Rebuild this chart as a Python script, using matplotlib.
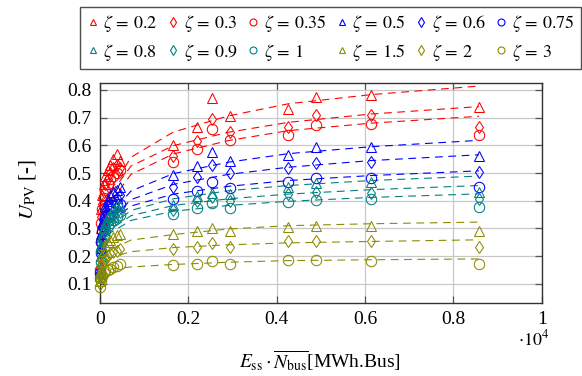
import matplotlib
matplotlib.use('Agg')
import matplotlib.pyplot as plt
from matplotlib.lines import Line2D

plt.rcParams['font.family'] = ['Liberation Serif', 'DejaVu Serif']
plt.rcParams['mathtext.fontset'] = 'stix'

# ---------------- data ----------------
zetas = ['0.2', '0.3', '0.35', '0.5', '0.6', '0.75', '0.8', '0.9', '1', '1.5', '2', '3']

# small-storage cluster
x_small = [5, 15, 30, 50, 80, 120, 170, 230, 300, 380, 460]
y_small_02 = [0.17, 0.30, 0.37, 0.42, 0.46, 0.49, 0.51, 0.53, 0.55, 0.567, 0.545]
y_small_03 = [0.16, 0.27, 0.34, 0.39, 0.43, 0.46, 0.48, 0.50, 0.52, 0.53, 0.52]
y_small_035 = [0.15, 0.25, 0.32, 0.37, 0.41, 0.44, 0.46, 0.48, 0.49, 0.50, 0.51]
y_small_05 = [0.15, 0.23, 0.28, 0.32, 0.35, 0.38, 0.40, 0.42, 0.43, 0.44, 0.45]
y_small_06 = [0.14, 0.22, 0.27, 0.30, 0.33, 0.36, 0.38, 0.39, 0.40, 0.41, 0.42]
y_small_075 = [0.14, 0.21, 0.25, 0.29, 0.31, 0.34, 0.35, 0.37, 0.38, 0.39, 0.39]
y_small_08 = [0.13, 0.20, 0.24, 0.27, 0.30, 0.32, 0.34, 0.35, 0.37, 0.38, 0.38]
y_small_09 = [0.13, 0.19, 0.23, 0.26, 0.29, 0.31, 0.32, 0.34, 0.35, 0.36, 0.36]
y_small_1 = [0.12, 0.18, 0.22, 0.25, 0.27, 0.29, 0.31, 0.32, 0.33, 0.34, 0.35]
y_small_15 = [0.11, 0.15, 0.18, 0.20, 0.22, 0.24, 0.25, 0.26, 0.27, 0.275, 0.28]
y_small_2 = [0.10, 0.13, 0.15, 0.17, 0.18, 0.19, 0.20, 0.21, 0.215, 0.22, 0.225]
y_small_3 = [0.09, 0.11, 0.12, 0.13, 0.14, 0.145, 0.15, 0.155, 0.16, 0.165, 0.17]

# large-storage columns
x_big = [1660, 2190, 2530, 2940, 4260, 4880, 6130, 8580]
y_big_02 = [0.602, 0.665, 0.770, 0.707, 0.732, 0.776, 0.782, 0.740]
y_big_03 = [0.563, 0.617, 0.694, 0.647, 0.668, 0.708, 0.710, 0.665]
y_big_035 = [0.540, 0.587, 0.659, 0.619, 0.636, 0.674, 0.678, 0.636]
y_big_05 = [0.492, 0.525, 0.575, 0.543, 0.564, 0.593, 0.595, 0.561]
y_big_06 = [0.451, 0.487, 0.528, 0.501, 0.519, 0.537, 0.540, 0.505]
y_big_075 = [0.405, 0.436, 0.469, 0.446, 0.469, 0.483, 0.483, 0.449]
y_big_08 = [0.385, 0.417, 0.429, 0.423, 0.451, 0.464, 0.469, 0.433]
y_big_09 = [0.367, 0.399, 0.413, 0.399, 0.423, 0.433, 0.429, 0.405]
y_big_1 = [0.351, 0.374, 0.392, 0.374, 0.397, 0.403, 0.405, 0.378]
y_big_15 = [0.281, 0.291, 0.303, 0.291, 0.306, 0.309, 0.309, 0.291]
y_big_2 = [0.225, 0.234, 0.246, 0.233, 0.253, 0.253, 0.256, 0.234]
y_big_3 = [0.167, 0.172, 0.183, 0.170, 0.186, 0.186, 0.184, 0.172]

# fitted trend lines
x_fit = [15, 60, 200, 700, 1660, 2900, 4260, 6130, 8580]
fit_02 = [0.153, 0.299, 0.425, 0.557, 0.648, 0.706, 0.750, 0.783, 0.814]
fit_03 = [0.195, 0.314, 0.417, 0.525, 0.599, 0.647, 0.683, 0.713, 0.740]
fit_035 = [0.165, 0.284, 0.387, 0.495, 0.569, 0.617, 0.653, 0.680, 0.705]
fit_05 = [0.154, 0.256, 0.344, 0.435, 0.498, 0.539, 0.570, 0.595, 0.618]
fit_06 = [0.158, 0.247, 0.324, 0.404, 0.459, 0.495, 0.521, 0.545, 0.566]
fit_075 = [0.189, 0.258, 0.318, 0.381, 0.424, 0.452, 0.473, 0.491, 0.508]
fit_08 = [0.177, 0.245, 0.304, 0.365, 0.407, 0.436, 0.455, 0.473, 0.489]
fit_09 = [0.181, 0.240, 0.292, 0.346, 0.383, 0.407, 0.424, 0.440, 0.455]
fit_1 = [0.183, 0.236, 0.281, 0.329, 0.362, 0.383, 0.398, 0.412, 0.425]
fit_15 = [0.146, 0.186, 0.221, 0.258, 0.278, 0.298, 0.310, 0.317, 0.323]
fit_2 = [0.147, 0.171, 0.193, 0.216, 0.231, 0.241, 0.248, 0.253, 0.259]
fit_3 = [0.130, 0.145, 0.153, 0.161, 0.170, 0.178, 0.184, 0.187, 0.190]

y_small = [y_small_02, y_small_03, y_small_035, y_small_05, y_small_06, y_small_075,
           y_small_08, y_small_09, y_small_1, y_small_15, y_small_2, y_small_3]
y_big = [y_big_02, y_big_03, y_big_035, y_big_05, y_big_06, y_big_075,
         y_big_08, y_big_09, y_big_1, y_big_15, y_big_2, y_big_3]
fits = [fit_02, fit_03, fit_035, fit_05, fit_06, fit_075,
        fit_08, fit_09, fit_1, fit_15, fit_2, fit_3]

# ---------------- style ----------------
RED, BLUE, TEAL, OLIVE = '#ff0000', '#0000ff', '#008080', '#8c8c00'
colors = [RED] * 3 + [BLUE] * 3 + [TEAL] * 3 + [OLIVE] * 3
markers = ['^', 'd', 'o'] * 4
msizes = {'^': 7.0, 'd': 6.5, 'o': 7.5}

fig = plt.figure(figsize=(5.82, 3.76), dpi=100)
ax = fig.add_axes([100 / 582, 1 - 302.7 / 376, 441.7 / 582, (302.7 - 83.3) / 376])

for i in range(len(zetas)):
    c = colors[i]
    m = markers[i]
    ax.plot(x_fit, fits[i], color=c, lw=0.8, dashes=(7, 5), zorder=2)
    ax.plot(x_small + x_big, y_small[i] + y_big[i], linestyle='none', marker=m,
            markersize=msizes[m], markerfacecolor='none', markeredgecolor=c,
            markeredgewidth=0.75, clip_on=False, zorder=3)

ax.set_xlim(0, 10000)
ax.set_ylim(0.032, 0.824)
ax.set_xticks([0, 2000, 4000, 6000, 8000, 10000])
ax.set_xticklabels(['0', '0.2', '0.4', '0.6', '0.8', '1'])
ax.set_yticks([0.1, 0.2, 0.3, 0.4, 0.5, 0.6, 0.7, 0.8])
ax.set_yticklabels(['0.1', '0.2', '0.3', '0.4', '0.5', '0.6', '0.7', '0.8'])
ax.grid(True, color='#c8c8c8', lw=0.9)
ax.set_axisbelow(True)
ax.tick_params(direction='in', length=5, width=0.9, color='#555555', labelsize=14,
               top=True, right=True, pad=6)
for s in ax.spines.values():
    s.set_color('#333333')
    s.set_linewidth(1.0)

fig.text(27 / 582, 1 - 189 / 376, r'$U_{\mathrm{PV}}$ [-]', rotation=90,
         ha='center', va='center', fontsize=15)
fig.text(320 / 582, 1 - 361 / 376, r'$E_{\mathrm{ss}}\cdot\overline{N_{\mathrm{bus}}}$[MWh.Bus]',
         ha='center', va='center', fontsize=14)
fig.text(534 / 582, 1 - 339 / 376, r'$\cdot 10^4$', ha='center', va='center', fontsize=13)

# legend (row-major ordering in 6 columns)
handles = [Line2D([], [], linestyle='none', marker=markers[i], markersize=5,
                  markerfacecolor='none', markeredgecolor=colors[i], markeredgewidth=0.8)
           for i in range(len(zetas))]
labels = [r'$\zeta\,=\,%s$' % z for z in zetas]
order = []
for col in range(6):
    order += [col, col + 6]
leg = fig.legend([handles[k] for k in order], [labels[k] for k in order], ncol=6,
                 loc='upper left', bbox_to_anchor=(80 / 582, 1 - 7 / 376),
                 fontsize=13, frameon=True, fancybox=False, handlelength=0.7,
                 handletextpad=0.25, columnspacing=0.5, labelspacing=0.4,
                 borderpad=0.35, borderaxespad=0)
leg.get_frame().set_edgecolor('#222222')
leg.get_frame().set_linewidth(1.0)

fig.savefig('out.png', dpi=100)
